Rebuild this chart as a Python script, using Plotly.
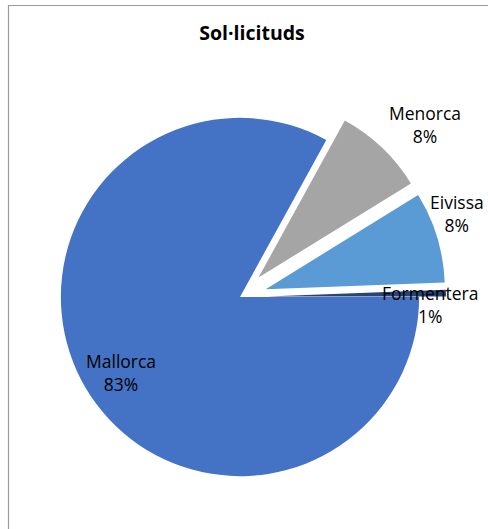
import math
import plotly.graph_objects as go

labels = ["Mallorca", "Menorca", "Eivissa", "Formentera"]
values = [83.0, 8.2, 8.2, 0.6]
colors = ["#4472C4", "#A5A5A5", "#5B9BD5", "#264478"]
pulls = [0, 0.15, 0.15, 0.15]

# label placement styles (radial factor of radius, pixel nudges)
label_radial = [0.79, 1.0, 1.0, 1.0]
label_dx = [3, 43, 20, -16]
label_dy = [-3, 23, 24, -11]

W, H = 488, 529
cx, cy, half = 240, 297, 206
R = half / (1 + max(pulls))

fig = go.Figure(go.Pie(
    labels=labels, values=values, sort=False, direction="clockwise", rotation=90,
    pull=pulls, marker=dict(colors=colors, line=dict(color="white", width=0)),
    textinfo="none", automargin=False,
    showlegend=False, hoverinfo="label+percent",
    domain=dict(x=[(cx - half) / W, (cx + half) / W], y=[1 - (cy + half) / H, 1 - (cy - half) / H]),
))

total = sum(values)
annotations = []
cum = 0.0
for lab, v, f, p, dx, dy in zip(labels, values, label_radial, pulls, label_dx, label_dy):
    # slices start at 3 o'clock and run clockwise
    ang = math.radians(-(cum + v / 2) / total * 360)
    cum += v
    dist = (f + p) * R
    px = cx + dist * math.cos(ang)
    py = cy - dist * math.sin(ang)
    pct = round(v / total * 100)
    annotations.append(dict(
        x=px / W, y=1 - py / H, xref="paper", yref="paper",
        text=f"{lab}<br>{pct}%", showarrow=False, xanchor="center", yanchor="middle",
        xshift=dx, yshift=dy, align="center",
        font=dict(family="Open Sans", size=17.5, color="#000000"),
    ))

fig.update_layout(
    width=W, height=H, margin=dict(l=0, r=0, t=0, b=0, autoexpand=False),
    paper_bgcolor="white", plot_bgcolor="white",
    title=dict(text="<b>Sol·licituds</b>", x=252 / W, xanchor="center", y=1 - 33 / H, yanchor="middle",
               font=dict(family="Open Sans", size=19.5, color="#000000")),
    annotations=annotations,
    shapes=[dict(type="rect", xref="paper", yref="paper", x0=8.5 / W, x1=1.05, y0=-0.05, y1=1 - 5.5 / H,
                 line=dict(color="#9A9A9A", width=1.2), fillcolor="rgba(0,0,0,0)", layer="below")],
)

fig.write_html(
    "out.html",
    config={"displayModeBar": False},
    post_script="document.body.style.margin='0px';document.body.style.overflow='hidden';",
)
